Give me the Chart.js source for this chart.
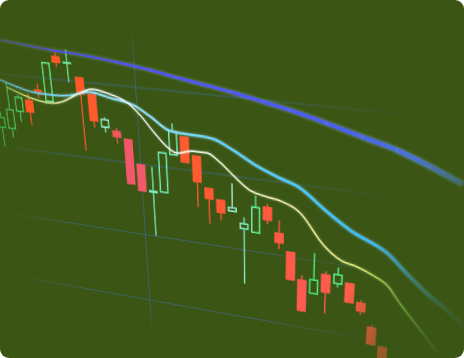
<!DOCTYPE html>
<html>
<head>
<meta charset="utf-8">
<script src="https://cdn.jsdelivr.net/npm/chart.js@4.4.1/dist/chart.umd.min.js"></script>
<style>
  html, body { margin: 0; background: #fff; }
  #card { position: relative; width: 464px; height: 358px; border-radius: 9px; overflow: hidden; background: #3b5614; }
  #fade {
    position: absolute; left: 0; top: 0; width: 464px; height: 358px; overflow: hidden;
    -webkit-mask-image: linear-gradient(116deg, #000 77%, rgba(0,0,0,.5) 86%, rgba(0,0,0,.15) 94%, transparent 100%);
    mask-image: linear-gradient(116deg, #000 77%, rgba(0,0,0,.5) 86%, rgba(0,0,0,.15) 94%, transparent 100%);
  }
  #chart { position: absolute; left: 0; top: 0; transform-origin: 0 0; }
</style>
</head>
<body>
<div id="card"><div id="fade"><canvas id="chart" width="610" height="460"></canvas></div></div>
<script>
// daily candles, index 0..34
const opens  = [3326,3326,3351,3369,3384,3369,3430,3421,3406,3386,3343,3341,3332,3300,3262,3264,3317,3344,3321,3280,3266,3251,3229,3226,3265,3232,3208,3171,3152,3184,3172,3177,3152,3119,3093];
const highs  = [3349,3389,3374,3377,3392,3421,3434,3439,3406,3386,3357,3345,3332,3300,3298,3320,3359,3344,3321,3280,3266,3290,3246,3278,3269,3249,3208,3177,3211,3188,3196,3177,3155,3122,3093];
const lows   = [3300,3314,3338,3335,3373,3369,3416,3398,3309,3342,3337,3324,3270,3262,3201,3264,3317,3309,3251,3230,3237,3251,3151,3226,3241,3209,3167,3123,3152,3127,3168,3148,3134,3092,3070];
const closes = [3342,3354,3372,3352,3381,3421,3421,3424,3384,3350,3355,3332,3270,3262,3266,3320,3350,3309,3285,3264,3247,3258,3238,3263,3246,3217,3167,3124,3174,3157,3187,3148,3138,3092,3070];

// moving averages as [index, value]
const maSlow = [[1.0,3444],[5.5,3437],[8.5,3434],[11.5,3429],[14.4,3423],[16.6,3417],[21.0,3406],[23.6,3398],[25.8,3391],[28.6,3380],[31.4,3368],[34.0,3357],[36.5,3342],[38.9,3326]];
const maMid  = [[0.4,3392],[3.5,3380],[5.4,3379],[7.0,3381],[8.9,3388],[10.7,3383],[12.7,3377],[14.1,3365],[15.8,3349],[17.8,3347],[19.5,3345],[21.1,3334],[23.1,3317],[25.0,3305],[26.6,3296],[28.9,3269],[30.8,3249],[33.8,3226],[35.2,3206],[37.1,3180],[38.8,3161],[40.2,3143]];
const maFast = [[1.0,3383],[3.2,3372],[5.0,3368],[6.1,3371],[7.9,3385],[9.1,3392],[10.4,3389],[12.1,3380],[13.3,3364],[14.3,3346],[15.5,3327],[16.3,3321],[17.7,3326],[18.9,3326],[20.0,3316],[21.1,3301],[22.5,3284],[24.0,3278],[25.1,3275],[26.7,3263],[28.7,3224],[30.1,3207],[31.5,3201],[32.9,3192],[34.0,3182],[35.1,3160],[36.3,3138],[37.5,3116],[38.4,3099]];

const yGrid = [3100, 3200, 3300, 3400];
const xGrid = [13];

// tilt of the chart plane: unit square (x 13..36.33, y 3400..3100) -> screen
const planeX = [13, 36.33], planeY = [3400, 3100];
const H = [253.5, 33.51, 135.6, 17.85, 251.4, 87.3, -0.1014, 0.1289];

const up = i => closes[i] >= opens[i];

function xGradient(chart, stops) {
  const sx = chart.scales.x, area = chart.chartArea;
  if (!area || !sx) return stops[stops.length >> 1][1];
  const g = chart.ctx.createLinearGradient(area.left, 0, area.right, 0);
  stops.forEach(([v, col]) => {
    const t = (sx.getPixelForValue(v) - area.left) / (area.right - area.left);
    g.addColorStop(Math.min(1, Math.max(0, t)), col);
  });
  return g;
}
function yGradient(chart, stops) {
  const sy = chart.scales.y, area = chart.chartArea;
  if (!area || !sy) return stops[1][1];
  const g = chart.ctx.createLinearGradient(0, area.top, 0, area.bottom);
  stops.forEach(([v, col]) => {
    const t = (sy.getPixelForValue(v) - area.top) / (area.bottom - area.top);
    g.addColorStop(Math.min(1, Math.max(0, t)), col);
  });
  return g;
}

const redStops = [[3,'#ff5722'],[9,'#ff5a2a'],[11.5,'#f2566a'],[13.5,'#f25a6a'],[15,'#ff5a2e'],[24,'#ff5a3c'],[27,'#ff5a52'],[34,'#ff6040']];
const greenStops = [[0,'#3caa46'],[2,'#4cc860'],[5,'#60e880'],[10,'#90eed0'],[15,'#74f0c0'],[18,'#80f0c4'],[21,'#a8f2e6'],[22,'#80f0c8'],[23,'#60f098'],[28,'#4cf080'],[31,'#60f8a0']];
const candleIndex = ctx => (ctx.raw && ctx.raw.x !== undefined) ? ctx.raw.x : ctx.dataIndex;
const candleColor = ctx => xGradient(ctx.chart, up(candleIndex(ctx)) ? greenStops : redStops);

const bodies = opens.map((o, i) => ({ x: i, y: [o, closes[i]] }));
const upperWicks = opens.map((o, i) => ({ x: i, y: [Math.max(o, closes[i]), highs[i]] })).filter(w => w.y[1] > w.y[0]);
const lowerWicks = opens.map((o, i) => ({ x: i, y: [lows[i], Math.min(o, closes[i])] })).filter(w => w.y[1] > w.y[0]);

function widthRamp(data, w0, w1) {
  const x0 = data[0][0], x1 = data[data.length - 1][0];
  return ctx => w0 + (w1 - w0) * (data[ctx.p0DataIndex][0] - x0) / (x1 - x0);
}
const toXY = arr => arr.map(([x, y]) => ({ x, y }));

// soft glow under the moving averages
const glow = {
  id: 'glow',
  beforeDatasetDraw(chart, args) {
    if (args.meta.type !== 'line') return;
    chart.ctx.save();
    chart.ctx.shadowColor = 'rgba(190,235,255,0.45)';
    chart.ctx.shadowBlur = 5;
  },
  afterDatasetDraw(chart, args) {
    if (args.meta.type === 'line') chart.ctx.restore();
  }
};

const wickOpts = { type: 'bar', grouped: false, barThickness: 1.4, backgroundColor: candleColor, borderWidth: 0, inflateAmount: 0, order: 3 };
const gridBlue = a => 'rgba(70,115,200,' + a + ')';

const chart = new Chart(document.getElementById('chart'), {
  type: 'bar',
  data: {
    datasets: [
      {
        type: 'line', data: toXY(maFast), order: 0,
        borderColor: ctx => xGradient(ctx.chart, [[0,'rgba(190,220,90,0.4)'],[3,'#d8f070'],[6,'#f4f8b0'],[9,'#ffffff'],[18,'#fffef0'],[25,'#fff8b0'],[30,'#f0f080'],[33,'#d0f050'],[36,'#90e040'],[39,'#40c070']]),
        borderWidth: 1.6, pointRadius: 0, cubicInterpolationMode: 'monotone',
        segment: { borderWidth: widthRamp(maFast, 1.3, 1.8) }
      },
      {
        type: 'line', data: toXY(maMid), order: 1,
        borderColor: ctx => xGradient(ctx.chart, [[-2,'rgba(90,190,230,0.4)'],[2,'#5ec8f0'],[8,'#8ee2ff'],[14,'#90e6ff'],[20,'#66d4ff'],[28,'#48c4f8'],[34,'#3cb4ec'],[40,'#3a8ec0']]),
        borderWidth: 2, pointRadius: 0, cubicInterpolationMode: 'monotone',
        segment: { borderWidth: widthRamp(maMid, 1.4, 3.8) }
      },
      {
        type: 'line', data: toXY(maSlow), order: 1,
        borderColor: ctx => xGradient(ctx.chart, [[-2,'rgba(70,80,220,0.2)'],[1,'rgba(80,80,235,0.5)'],[5,'#5048f0'],[12,'#5050ff'],[22,'#5058f8'],[30,'#4a62e8'],[36,'#4a78d0'],[41,'#4a90b8']]),
        borderWidth: 3, pointRadius: 0, cubicInterpolationMode: 'monotone',
        segment: { borderWidth: widthRamp(maSlow, 1.2, 5) }
      },
      {
        data: bodies, grouped: false, barThickness: 10, order: 2,
        backgroundColor: ctx => up(candleIndex(ctx)) ? 'rgba(0,0,0,0)' : candleColor(ctx),
        borderColor: candleColor,
        borderWidth: ctx => up(candleIndex(ctx)) ? 1.6 : 0,
        borderSkipped: false, inflateAmount: 0
      },
      Object.assign({ data: upperWicks }, wickOpts),
      Object.assign({ data: lowerWicks }, wickOpts)
    ]
  },
  options: {
    responsive: false,
    animation: false,
    devicePixelRatio: 2,
    events: [],
    layout: { padding: 0 },
    plugins: { legend: { display: false }, tooltip: { enabled: false } },
    scales: {
      x: {
        type: 'linear', min: -6, max: 43, offset: false,
        ticks: { display: false }, border: { display: false },
        afterBuildTicks: ax => { ax.ticks = xGrid.map(v => ({ value: v })); },
        grid: {
          offset: false, drawTicks: false, lineWidth: 1.1,
          color: ctx => yGradient(ctx.chart, [[3560,gridBlue(0)],[3472,gridBlue(0)],[3430,gridBlue(0.5)],[3100,gridBlue(0.5)],[3040,gridBlue(0)]])
        }
      },
      y: {
        type: 'linear', min: 2920, max: 3560,
        ticks: { display: false }, border: { display: false },
        afterBuildTicks: ax => { ax.ticks = yGrid.map(v => ({ value: v })); },
        grid: {
          drawTicks: false, lineWidth: 1.1,
          color: ctx => xGradient(ctx.chart, [[-2,gridBlue(0)],[7,gridBlue(0.45)],[22,gridBlue(0.45)],[36,gridBlue(0)]])
        }
      }
    }
  },
  plugins: [glow]
});

// map the flat chart onto the tilted plane
(function tilt() {
  const sx = chart.scales.x, sy = chart.scales.y;
  const P0 = sx.getPixelForValue(planeX[0]), P1 = sx.getPixelForValue(planeX[1]);
  const Q0 = sy.getPixelForValue(planeY[0]), Q1 = sy.getPixelForValue(planeY[1]);
  const [a, b, c, d, e, f, g, h] = H;
  const sp = P1 - P0, sq = Q1 - Q0, u0 = -P0 / sp, v0 = -Q0 / sq;
  const m = [a / sp, d / sp, 0, g / sp,
             b / sq, e / sq, 0, h / sq,
             0, 0, 1, 0,
             a * u0 + b * v0 + c, d * u0 + e * v0 + f, 0, g * u0 + h * v0 + 1];
  chart.canvas.style.transform = 'matrix3d(' + m.join(',') + ')';
})();
</script>
</body>
</html>
